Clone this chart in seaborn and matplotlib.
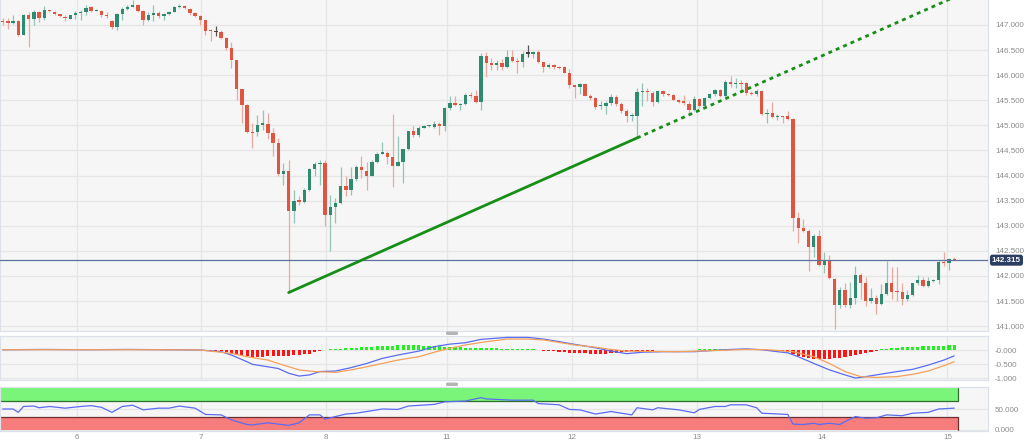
import numpy as np
import matplotlib
matplotlib.use("Agg")
import matplotlib.pyplot as plt
import matplotlib.transforms as mtransforms
from matplotlib.patches import FancyBboxPatch
import seaborn as sns

# ---------------- data (hourly candles) ----------------
opens = [147.06,147.07,147.03,147.08,146.80,147.20,147.11,147.26,147.13,147.30,147.25,147.21,147.15,147.12,147.19,147.23,147.26,147.35,147.28,147.28,
         147.19,147.08,146.97,147.22,147.32,147.36,147.40,147.28,147.09,147.20,147.23,147.17,147.21,147.26,147.35,147.38,147.31,147.23,147.18,147.10,
         146.90,146.86,146.87,146.74,146.54,146.30,145.72,145.41,144.86,144.86,145.01,145.03,144.85,144.64,144.04,144.10,143.29,143.50,143.47,143.72,
         144.13,144.23,144.25,143.22,143.38,143.46,143.79,143.72,143.93,144.17,144.09,144.00,144.28,144.44,144.45,144.38,144.20,144.28,144.52,144.88,
         144.81,144.95,144.98,144.97,145.03,144.99,145.34,145.44,145.41,145.43,145.61,145.58,145.46,146.38,146.24,146.20,146.24,146.17,146.36,146.29,
         146.26,146.43,146.43,146.47,146.26,146.16,146.20,146.17,146.16,146.05,145.81,145.76,145.82,145.59,145.54,145.38,145.38,145.44,145.56,145.42,
         145.29,145.18,145.19,145.66,145.69,145.64,145.46,145.68,145.63,145.60,145.51,145.48,145.43,145.30,145.52,145.38,145.54,145.63,145.70,145.58,
         145.87,145.82,145.84,145.84,145.64,145.62,145.68,145.23,145.25,145.16,145.18,145.18,145.13,143.15,142.96,142.89,142.58,142.79,142.21,142.32,
         141.93,141.42,141.72,141.42,141.57,142.01,141.87,141.50,141.57,141.44,141.64,141.87,141.70,141.68,141.55,141.62,141.86,141.92,141.81,141.90,
         141.92,142.28,142.25,142.34]
highs = [147.13,147.13,147.20,147.09,147.22,147.26,147.30,147.28,147.38,147.32,147.27,147.22,147.20,147.20,147.28,147.30,147.40,147.38,147.32,147.29,
         147.25,147.10,147.23,147.35,147.40,147.50,147.42,147.29,147.25,147.40,147.28,147.23,147.28,147.38,147.42,147.39,147.33,147.25,147.20,147.10,
         146.93,146.98,146.90,146.77,146.67,146.30,145.73,145.42,145.05,145.20,145.30,145.24,144.95,144.75,144.25,144.31,143.71,143.59,143.75,144.16,
         144.27,144.32,144.32,143.62,143.56,144.18,143.99,144.18,144.22,144.40,144.27,144.32,144.47,144.66,144.48,145.23,144.79,144.53,144.89,144.98,
         144.98,145.00,145.01,145.09,145.07,145.36,145.58,145.58,145.44,145.64,145.66,145.71,146.45,146.47,146.34,146.30,146.32,146.50,146.50,146.34,
         146.49,146.60,146.48,146.50,146.27,146.24,146.23,146.18,146.19,146.12,145.81,145.84,145.84,145.62,145.56,145.48,145.48,145.63,145.61,145.47,
         145.32,145.24,145.74,145.85,145.74,145.68,145.71,145.71,145.64,145.62,145.53,145.61,145.48,145.59,145.54,145.56,145.64,145.72,145.72,145.90,
         145.98,145.94,145.91,145.87,145.69,145.72,145.71,145.33,145.46,145.23,145.19,145.28,145.15,143.28,143.13,142.93,142.83,142.91,142.48,142.41,
         141.95,141.79,141.87,141.88,142.19,142.05,141.97,141.77,141.63,141.85,142.30,142.17,142.17,141.87,141.72,141.87,142.01,141.97,141.97,141.93,
         142.30,142.48,142.36,142.38]
lows = [147.00,146.93,147.02,146.78,146.80,146.57,147.00,147.05,147.10,147.25,147.20,147.15,147.07,147.11,147.11,147.10,147.20,147.26,147.28,147.15,
        147.13,146.93,146.91,147.10,147.30,147.35,147.26,147.00,147.07,147.08,147.13,147.10,147.20,147.25,147.33,147.32,147.20,147.15,147.00,146.80,
        146.69,146.78,146.72,146.50,146.14,145.51,145.05,144.85,144.55,144.78,144.91,144.72,144.40,143.99,143.81,141.67,143.05,143.42,143.45,143.70,
        144.00,143.82,142.99,142.50,143.06,143.44,143.59,143.62,143.89,143.95,143.72,143.99,144.26,144.43,144.24,143.77,144.19,143.85,144.50,144.77,
        144.77,144.94,144.97,144.95,144.81,144.88,145.31,145.38,145.31,145.41,145.54,145.44,145.31,145.97,146.11,146.11,146.11,146.14,146.27,146.05,
        146.17,146.36,146.34,146.24,146.07,146.14,146.12,146.13,146.04,145.74,145.54,145.63,145.58,145.51,145.32,145.33,145.23,145.41,145.38,145.24,
        145.06,145.08,144.75,145.38,145.48,145.39,145.44,145.58,145.58,145.50,145.44,145.41,145.25,145.28,145.34,145.36,145.52,145.58,145.56,145.54,
        145.77,145.74,145.67,145.61,145.61,145.58,145.21,145.04,145.14,145.11,145.05,145.11,142.89,142.65,142.87,142.10,142.38,142.20,142.05,141.93,
        140.94,141.37,141.39,141.37,141.44,141.55,141.40,141.47,141.24,141.42,141.62,141.54,141.50,141.42,141.50,141.60,141.83,141.79,141.79,141.89,
        141.85,142.19,142.12,142.31]
closes = [147.05,147.03,147.08,146.80,147.20,147.11,147.26,147.13,147.30,147.27,147.21,147.17,147.13,147.19,147.23,147.26,147.33,147.28,147.30,147.19,
          147.17,146.97,147.22,147.32,147.36,147.40,147.28,147.09,147.20,147.23,147.17,147.21,147.26,147.35,147.38,147.33,147.23,147.18,147.10,146.89,
          146.88,146.86,146.74,146.54,146.30,145.72,145.41,144.86,144.85,145.01,145.04,144.85,144.64,144.04,144.10,143.29,143.49,143.48,143.72,144.13,
          144.23,144.25,143.22,143.38,143.46,143.79,143.72,143.93,144.17,144.11,144.00,144.28,144.44,144.46,144.38,144.20,144.28,144.52,144.88,144.81,
          144.95,144.98,145.00,145.03,144.99,145.34,145.44,145.41,145.43,145.61,145.58,145.46,146.38,146.24,146.20,146.25,146.17,146.37,146.29,146.26,
          146.42,146.43,146.47,146.26,146.16,146.20,146.16,146.14,146.05,145.81,145.76,145.82,145.59,145.54,145.36,145.40,145.44,145.56,145.42,145.29,
          145.18,145.20,145.66,145.68,145.67,145.46,145.68,145.63,145.60,145.51,145.46,145.44,145.31,145.52,145.39,145.54,145.63,145.70,145.58,145.87,
          145.82,145.84,145.82,145.64,145.62,145.68,145.23,145.25,145.16,145.18,145.16,145.13,143.15,142.96,142.89,142.58,142.79,142.21,142.32,141.95,
          141.42,141.72,141.42,141.57,142.01,141.87,141.50,141.57,141.44,141.64,141.87,141.68,141.68,141.55,141.62,141.86,141.92,141.81,141.90,141.92,
          142.28,142.25,142.34,142.32]

last_price = 142.315
trend_start = (55, 141.67)
trend_end = (122, 144.75)

price_ticks = [141.0, 141.5, 142.0, 142.5, 143.0, 143.5, 144.0, 144.5, 145.0, 145.5, 146.0, 146.5, 147.0]
day_labels = ["6", "7", "8", "11", "12", "13", "14", "15"]
day_pos = [14.2, 38.2, 62.2, 85.4, 109.4, 133.5, 157.5, 181.7]

macd_x = [0, 8, 16, 24, 32, 38, 42, 44, 47, 48, 51, 53, 55, 57, 59, 61, 64, 67, 70, 73, 76, 80, 83, 86, 89, 92, 97,
          101, 104, 107, 110, 114, 117, 120, 123, 127, 130, 133, 137, 140, 143, 146, 149, 151, 153, 156, 159, 162, 164,
          165, 168, 172, 175, 178, 181, 183]
macd_v = [0.01, 0.02, 0.01, 0.02, 0.01, 0.0, -0.06, -0.18, -0.42, -0.51, -0.60, -0.66, -0.83, -0.93, -0.89, -0.77, -0.75,
          -0.63, -0.48, -0.30, -0.18, -0.04, 0.12, 0.21, 0.26, 0.38, 0.45, 0.45, 0.39, 0.30, 0.20, 0.08, -0.04, -0.13, -0.08,
          -0.06, -0.06, -0.06, -0.01, 0.02, 0.04, 0.01, -0.06, -0.10, -0.24, -0.48, -0.71, -0.89, -1.00, -0.98, -0.89, -0.77,
          -0.69, -0.54, -0.36, -0.21]
signal_x = [0, 10, 20, 30, 38, 44, 47, 51, 54, 57, 60, 64, 67, 70, 73, 76, 80, 83, 86, 89, 92, 97, 101, 104, 107, 110,
            114, 117, 120, 123, 130, 137, 143, 147, 152, 156, 159, 162, 165, 168, 172, 175, 178, 181, 183]
signal_v = [0.01, 0.01, 0.01, 0.01, 0.0, -0.12, -0.24, -0.36, -0.54, -0.71, -0.77, -0.80, -0.71, -0.60, -0.48, -0.36,
            -0.24, -0.08, 0.06, 0.18, 0.27, 0.39, 0.39, 0.36, 0.27, 0.18, 0.10, 0.02, -0.04, -0.05, -0.06, -0.02, 0.02,
            0.01, -0.06, -0.24, -0.48, -0.77, -0.95, -0.98, -0.95, -0.87, -0.75, -0.56, -0.42]
hist = [0.01, 0.01, 0.0, -0.01, 0.01, 0.01, 0.01, 0.01, 0.01, 0.0, 0.0, -0.01, -0.01, 0.0, 0.0, 0.0, 0.01, 0.01, 0.0, 0.0,
        -0.01, -0.01, 0.0, 0.01, 0.01, 0.01, 0.0, -0.01, 0.0, 0.0, 0.0, 0.0, 0.01, 0.01, 0.0, 0.0, -0.01, -0.01,
        -0.01, -0.01, -0.02, -0.03, -0.05, -0.07, -0.10, -0.14, -0.18, -0.22, -0.25, -0.26, -0.25, -0.23, -0.22, -0.21,
        -0.20, -0.20, -0.19, -0.18, -0.16, -0.13, -0.08, -0.03,
        0.01, 0.02, 0.03, 0.04, 0.06, 0.07, 0.08, 0.10, 0.11, 0.12, 0.13, 0.14, 0.15, 0.16, 0.17, 0.17, 0.17, 0.17, 0.17,
        0.16, 0.15, 0.14, 0.13, 0.12, 0.11, 0.10, 0.09, 0.08, 0.08, 0.07, 0.07, 0.06, 0.06, 0.06, 0.05, 0.05,
        0.04, 0.03, 0.03, 0.02, 0.02, 0.01,
        -0.02, -0.04, -0.05, -0.07, -0.08, -0.09, -0.10, -0.11, -0.12, -0.13, -0.14, -0.14, -0.13, -0.12, -0.10, -0.08,
        -0.06, -0.05, -0.04, -0.03, -0.02,
        -0.02, -0.01, -0.01, -0.01, 0.0, 0.0, 0.01, 0.01, 0.01, 0.02, 0.02, 0.02,
        0.03, 0.03, 0.03, 0.03, 0.03, 0.03, 0.03, 0.03, 0.02, 0.01, -0.01, -0.02, -0.03, -0.05,
        -0.08, -0.13, -0.20, -0.25, -0.29, -0.31, -0.32, -0.32, -0.31, -0.30, -0.28, -0.26, -0.23, -0.19, -0.15, -0.11,
        -0.07, -0.03,
        0.03, 0.05, 0.07, 0.08, 0.09, 0.10, 0.11, 0.12, 0.13, 0.14, 0.14, 0.15, 0.16, 0.17, 0.18]
macd_ticks = [0.0, -0.5, -1.0]
macd_labels = ["-0.000", "-0.500", "-1.000"]

rsi_x = [0, 2, 3, 4, 6, 7, 9, 12, 15, 17, 19, 21, 23, 25, 27, 30, 32, 34, 37, 39, 42, 44, 47, 48, 51, 53, 55, 57, 59, 61,
         62, 64, 66, 68, 70, 73, 76, 78, 83, 85, 89, 92, 93, 98, 102, 103, 107, 109, 111, 114, 117, 121, 122, 125, 126,
         130, 133, 134, 137, 139, 140, 143, 145, 146, 151, 152, 154, 156, 157, 159, 161, 162, 164, 166, 168, 170, 173,
         175, 178, 180, 183]
rsi_v = [50, 50, 42, 56, 57, 53, 56, 52, 56, 58, 54, 42, 56, 59, 48, 52, 52, 57, 52, 37, 36, 24, 13, 12, 17, 14, 11, 17,
         36, 36, 26, 32, 38, 40, 44, 50, 49, 57, 61, 67, 69, 77, 74, 71, 71, 63, 60, 49, 48, 38, 44, 36, 53, 48, 53, 48,
         41, 49, 56, 56, 60, 60, 53, 40, 37, 14, 13, 16, 13, 16, 13, 20, 32, 28, 29, 36, 34, 40, 42, 50, 52]
rsi_ticks = [50, 0]
rsi_labels = ["50.000", "0.000"]

# ---------------- style ----------------
sns.set_style("white")
plt.rcParams['font.family'] = ['Liberation Sans', 'DejaVu Sans']

GREEN = '#2e8b70'
RED = '#e0553f'
DOJI = '#444444'
GRID = '#e6e6e6'
BG = '#f6f6f6'
SPINE = '#dde2ea'
TICKC = '#8c8c8c'
FS = 5.8

W, H = 1024, 443
fig = plt.figure(figsize=(W / 100, H / 100), dpi=100)
fig.patch.set_facecolor('white')


def rect(l, t, r, b):
    return [l / W, 1 - b / H, (r - l) / W, (b - t) / H]


ax = fig.add_axes(rect(0, 0, 988, 331))
axm = fig.add_axes(rect(0, 336, 988, 380))
axr = fig.add_axes(rect(0, 387, 988, 431))

n = len(opens)
idx = np.arange(n)
o = np.array(opens); h = np.array(highs); l = np.array(lows); c = np.array(closes)
XL = (-0.52, 189.5)

for a in (ax, axm, axr):
    a.set_facecolor(BG)
    a.set_xlim(*XL)
    a.set_xticks(day_pos)
    a.grid(True, color=GRID, lw=0.9)
    a.set_axisbelow(True)
    for s in a.spines.values():
        s.set_color(SPINE)
        s.set_linewidth(0.9)
    a.yaxis.tick_right()
    a.tick_params(axis='both', length=0, labelsize=FS, labelcolor=TICKC)
    a.tick_params(axis='y', pad=5)
ax.spines['top'].set_visible(False)
ax.set_xticklabels([])
axm.set_xticklabels([])
axr.set_xticklabels(day_labels)
axr.tick_params(axis='x', pad=2.5)

# ---------------- candles ----------------
up = c > o
dn = c < o
body_col = np.where(up, GREEN, np.where(dn, RED, DOJI))
wick_col = np.where(up, '#93c4b6', np.where(dn, '#eea99e', '#555555'))
ax.vlines(idx, l, h, colors=list(wick_col), lw=0.9, zorder=2)
body_h = np.maximum(np.abs(c - o), 0.025)
ax.bar(idx, body_h, bottom=np.minimum(o, c), width=0.64, color=list(body_col), linewidth=0, zorder=3)

ax.set_ylim(140.904, 147.498)
ax.set_yticks(price_ticks)
ax.set_yticklabels([f"{v:.3f}" for v in price_ticks])

# trend line
ax.plot([trend_start[0], trend_end[0]], [trend_start[1], trend_end[1]], color='#158f15', lw=2.0,
        solid_capstyle='round', zorder=5)
slope = (trend_end[1] - trend_start[1]) / (trend_end[0] - trend_start[0])
ext_x = 188
ax.plot([trend_end[0], ext_x], [trend_end[1], trend_end[1] + slope * (ext_x - trend_end[0])],
        color='#158f15', lw=2.0, dashes=(1.4, 1.5), zorder=5)

# last price line + label
ax.axhline(last_price, color='#5d7399', lw=0.9, zorder=4)
trans = mtransforms.blended_transform_factory(ax.transAxes, ax.transData)
ax.text(1.004, last_price, f"{last_price:.3f}", transform=trans, ha='left', va='center',
        fontsize=FS, color='white', fontweight='bold', clip_on=False, zorder=10,
        bbox=dict(boxstyle='round,pad=0.25,rounding_size=0.3', fc='#2b3d63', ec='none'))

# ---------------- MACD ----------------
hist_a = np.array(hist)
axm.bar(idx, hist_a, width=0.6, color=np.where(hist_a >= 0, '#22ee22', '#ff1414'), linewidth=0, zorder=3)
sns.lineplot(x=macd_x, y=macd_v, ax=axm, color='#5a6cf2', lw=0.9, zorder=4, legend=False)
sns.lineplot(x=signal_x, y=signal_v, ax=axm, color='#f5a05a', lw=0.9, zorder=4, legend=False)
axm.set_ylim(-1.071, 0.5)
axm.set_yticks(macd_ticks)
axm.set_yticklabels(macd_labels)
axm.set_xlim(*XL)
axm.set_xlabel(''); axm.set_ylabel('')

# ---------------- RSI ----------------
band_end = 183.7
axr.fill_between([XL[0], band_end], 70, 100, color='#7af57a', lw=0, zorder=1)
axr.plot([XL[0], band_end], [70, 70], color='#2f6e2f', lw=0.9, zorder=2)
axr.plot([band_end, band_end], [70, 100], color='#2f6e2f', lw=0.9, zorder=2)
axr.fill_between([XL[0], band_end], 0, 30, color='#f77d7d', lw=0, zorder=1)
axr.plot([XL[0], band_end], [30, 30], color='#6e3030', lw=0.9, zorder=2)
axr.plot([band_end, band_end], [0, 30], color='#6e3030', lw=0.9, zorder=2)
sns.lineplot(x=rsi_x, y=rsi_v, ax=axr, color='#5a6cf2', lw=0.9, zorder=4, legend=False)
axr.set_ylim(-2.4, 102.4)
axr.set_yticks(rsi_ticks)
axr.set_yticklabels(rsi_labels)
axr.set_xlim(*XL)
axr.set_xlabel(''); axr.set_ylabel('')

# panel splitter handles
for top in (331.5, 382.5):
    fig.patches.append(FancyBboxPatch((446 / W, 1 - (top + 3.5) / H), 12 / W, 3.5 / H,
                                      boxstyle='round,pad=0,rounding_size=0.002',
                                      transform=fig.transFigure, fc='#b5b5b5', ec='none'))

fig.savefig('out.png', dpi=100, facecolor='white')
